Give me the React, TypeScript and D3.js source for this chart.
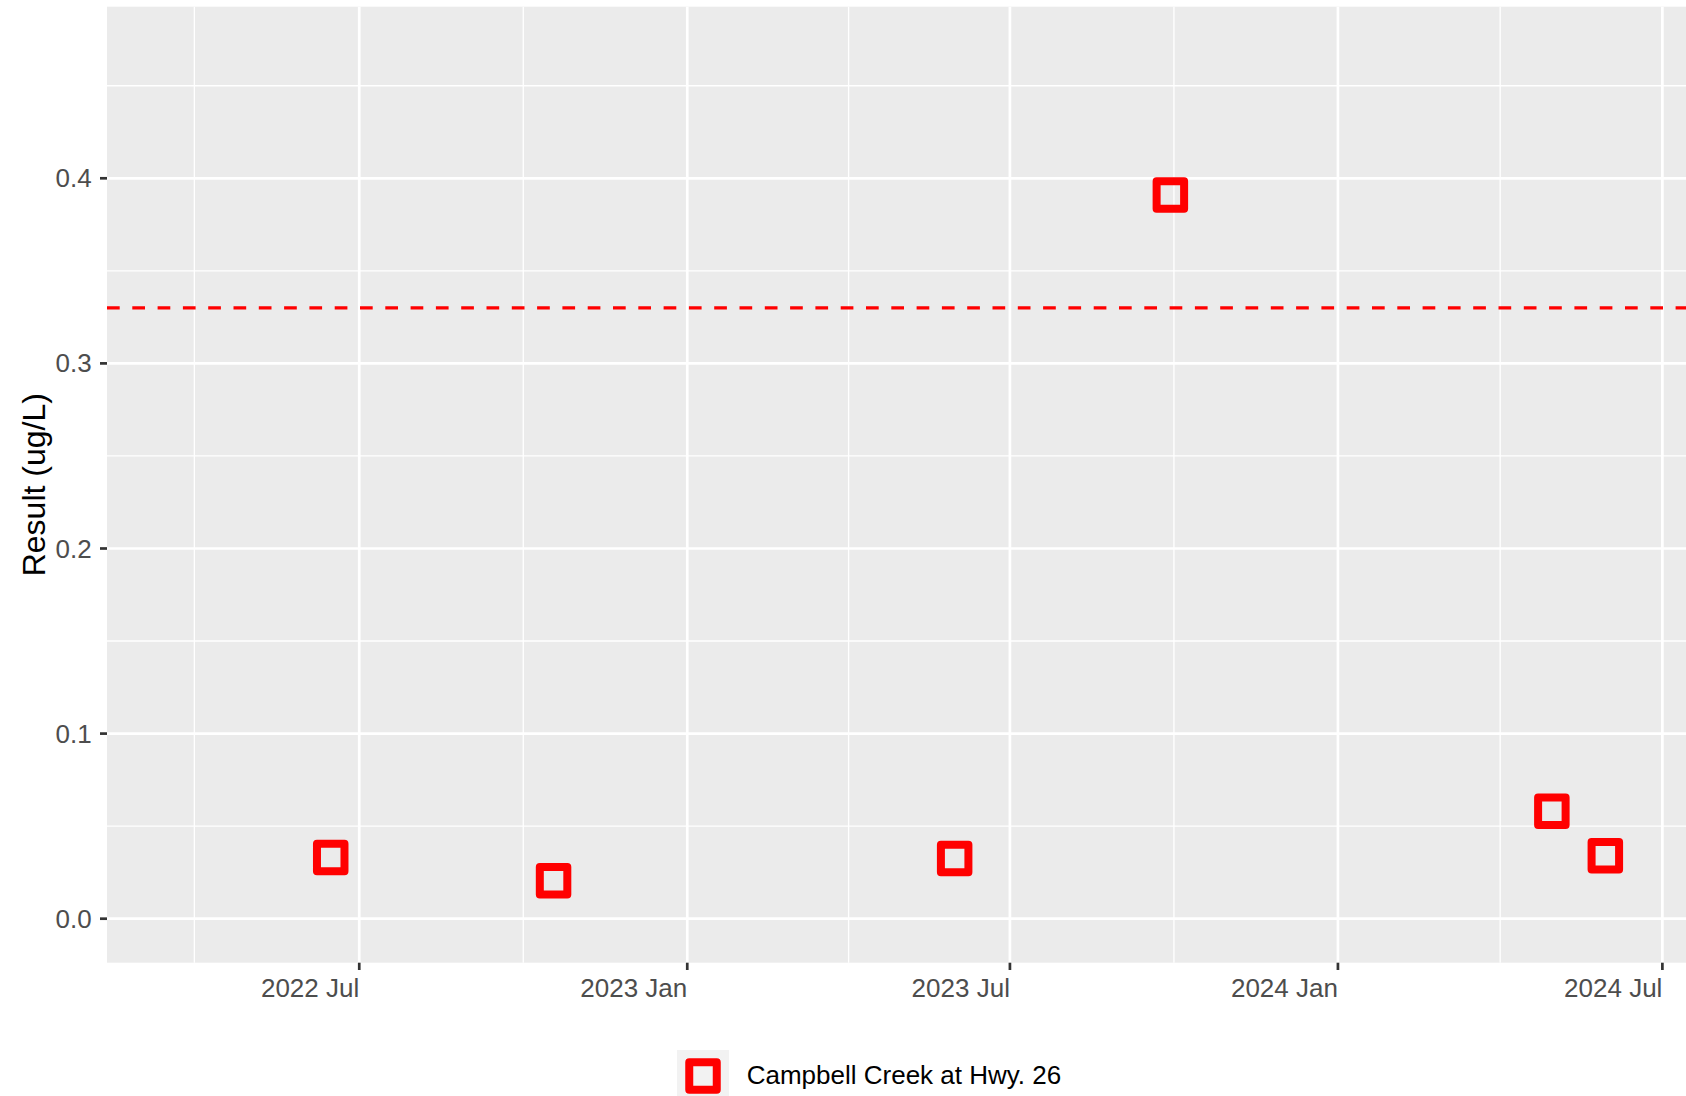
import React from 'react';
import * as d3 from 'd3';

// sample dates and results (ug/L)
const sampleDates = ['2022-06-15', '2022-10-18', '2023-05-31', '2023-09-29', '2024-04-30', '2024-05-30'];
const sampleValues = [0.033, 0.0205, 0.0325, 0.391, 0.058, 0.034];
const seriesName = 'Campbell Creek at Hwy. 26';
const guideline = 0.33;

const xTickDates = ['2022-07-01', '2023-01-01', '2023-07-01', '2024-01-01', '2024-07-01'];
const xTickLabels = ['2022 Jul', '2023 Jan', '2023 Jul', '2024 Jan', '2024 Jul'];
const yTicks = [0, 0.1, 0.2, 0.3, 0.4];
const yTickLabels = ['0.0', '0.1', '0.2', '0.3', '0.4'];

const W = 1686;
const H = 1096;
const left = 107;
const top = 6.7;
const bottom = 962.7;
const right = W;

const font = '"Liberation Sans", Arial, sans-serif';

const App = () => {
  const parse = (s: string) => new Date(s + 'T00:00:00Z');

  const x = d3.scaleUtc()
    .domain([new Date(Date.UTC(2022, 1, 9, 12)), new Date(Date.UTC(2024, 6, 14, 6))])
    .range([left, right]);
  const y = d3.scaleLinear().domain([-0.02377, 0.4927]).range([bottom, top]);

  const majors = xTickDates.map(parse);
  // minor breaks sit halfway between majors (one extra major before the range)
  const allMajors = [parse('2021-12-28'), ...majors];
  const xMinor = d3.pairs(allMajors).map(([a, b]) => new Date((a.getTime() + b.getTime()) / 2));
  const yMinor = d3.pairs([...yTicks, 0.5]).map(([a, b]) => (a + b) / 2);

  const side = 27.5;
  const tickSize = 26;

  return (
    <svg width={W} height={H} style={{ position: 'absolute', left: 0, top: 0 }} fontFamily={font}>
      <rect x={0} y={0} width={W} height={H} fill="#fff" />
      <rect x={left} y={top} width={right - left} height={bottom - top} fill="#EBEBEB" />

      {/* minor grid */}
      {yMinor.map((v, i) => (
        <line key={'ym' + i} x1={left} x2={right} y1={y(v)} y2={y(v)} stroke="#fff" strokeWidth={1.35} />
      ))}
      {xMinor.map((d, i) => (
        <line key={'xm' + i} x1={x(d)} x2={x(d)} y1={top} y2={bottom} stroke="#fff" strokeWidth={1.35} />
      ))}
      {/* major grid */}
      {yTicks.map((v, i) => (
        <line key={'y' + i} x1={left} x2={right} y1={y(v)} y2={y(v)} stroke="#fff" strokeWidth={2.7} />
      ))}
      {majors.map((d, i) => (
        <line key={'x' + i} x1={x(d)} x2={x(d)} y1={top} y2={bottom} stroke="#fff" strokeWidth={2.7} />
      ))}

      {/* guideline */}
      <line x1={left} x2={right} y1={y(guideline)} y2={y(guideline)} stroke="#FF0000"
        strokeWidth={3.2} strokeDasharray="12.7 12.6" />

      {/* points */}
      {sampleDates.map((s, i) => (
        <rect key={'p' + i}
          x={x(parse(s)) - side / 2} y={y(sampleValues[i]) - side / 2}
          width={side} height={side}
          fill="none" stroke="#FF0000" strokeWidth={8} strokeLinejoin="round" />
      ))}

      {/* y axis */}
      {yTicks.map((v, i) => (
        <g key={'yt' + i}>
          <line x1={100} x2={left} y1={y(v)} y2={y(v)} stroke="#333" strokeWidth={2.7} />
          <text x={91.7} y={y(v)} dy="0.35em" textAnchor="end" fontSize={tickSize} fill="#4D4D4D">
            {yTickLabels[i]}
          </text>
        </g>
      ))}
      <text transform={`translate(45, ${(top + bottom) / 2}) rotate(-90)`} textAnchor="middle"
        fontSize={32} fill="#000">Result (ug/L)</text>

      {/* x axis */}
      {majors.map((d, i) => (
        <g key={'xt' + i}>
          <line x1={x(d)} x2={x(d)} y1={bottom} y2={bottom + 7.3} stroke="#333" strokeWidth={2.7} />
          <text x={x(d)} y={996.5} textAnchor="end" fontSize={tickSize} fill="#4D4D4D">
            {xTickLabels[i]}
          </text>
        </g>
      ))}

      {/* legend */}
      <rect x={677} y={1050} width={52} height={52} fill="#F2F2F2" />
      <rect x={703 - side / 2} y={1076 - side / 2} width={side} height={side}
        fill="none" stroke="#FF0000" strokeWidth={8} strokeLinejoin="round" />
      <text x={746.7} y={1084.3} fontSize={tickSize} fill="#000">{seriesName}</text>
    </svg>
  );
};

export default App;
